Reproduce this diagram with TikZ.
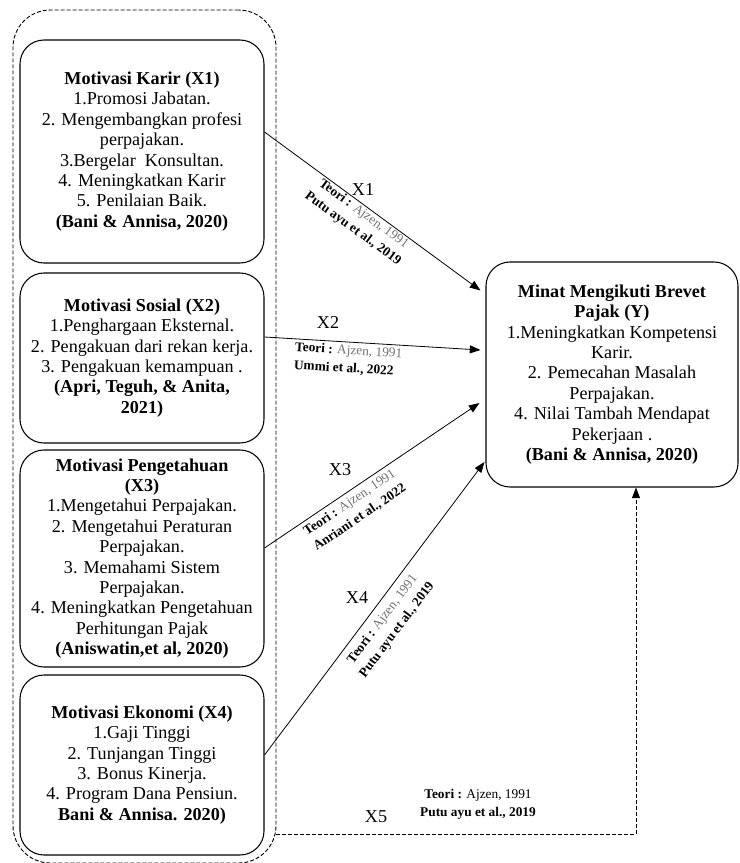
\documentclass[tikz,border=0pt]{standalone}
\usepackage{fontspec}
\setmainfont{Liberation Serif}
\usepackage{tikz}
\usetikzlibrary{arrows.meta,calc,positioning}
\definecolor{ajzengray}{RGB}{115,115,115}

\begin{document}
\begin{tikzpicture}[
    x=0.75pt, y=-0.75pt,
    motbox/.style={draw, line width=0.8pt, rounded corners=18pt, minimum width=183pt,
        align=center, inner sep=0pt, font=\fontsize{13.6}{15.3}\selectfont},
    ybox/.style={motbox, minimum width=189pt, minimum height=168.75pt},
    outerbox/.style={draw, line width=0.7pt, dash pattern=on 3pt off 1.5pt, rounded corners=28pt,
        minimum width=197.25pt, minimum height=639.75pt, inner sep=0pt},
    theory/.style={font=\fontsize{10}{13.5}\selectfont, align=center, inner sep=1pt},
    xlab/.style={font=\fontsize{13.6}{15}\selectfont, inner sep=0pt},
    link/.style={line width=0.6pt, -{Triangle[length=8pt,width=6pt]}},
    dashlink/.style={link, dash pattern=on 3pt off 1.5pt}
]
\useasboundingbox (0,0) rectangle (739,863);

\node[outerbox] (motivasi) at (144.5,436.5) {};

\node[motbox, minimum height=167.25pt] (karir) at (142,151.5) {\textbf{Motivasi Karir (X1)}\\1.Promosi Jabatan.\\2. Mengembangkan profesi\\perpajakan.\\3.Bergelar\ \ Konsultan.\\4. Meningkatkan Karir\\5. Penilaian Baik.\\\textbf{(Bani \& Annisa, 2020)}};
\node[motbox, minimum height=127.5pt] (sosial) at (142,358) {\textbf{Motivasi Sosial (X2)}\\1.Penghargaan Eksternal.\\2. Pengakuan dari rekan kerja.\\3. Pengakuan kemampuan .\\\textbf{(Apri, Teguh, \& Anita,}\\\textbf{2021)}};
\node[motbox, minimum height=162.75pt] (pengetahuan) at (142,558.5) {\textbf{Motivasi Pengetahuan}\\\textbf{(X3)}\\1.Mengetahui Perpajakan.\\2. Mengetahui Peraturan\\Perpajakan.\\3. Memahami Sistem\\Perpajakan.\\4. Meningkatkan Pengetahuan\\Perhitungan Pajak\\\textbf{(Aniswatin,et al, 2020)}};
\node[motbox, minimum height=135pt] (ekonomi) at (142,765) {\textbf{Motivasi Ekonomi (X4)}\\1.Gaji Tinggi\\2. Tunjangan Tinggi\\3. Bonus Kinerja.\\4. Program Dana Pensiun.\\\textbf{Bani \& Annisa. 2020)}};

\node[ybox] (minat) at (612,374.5) {\textbf{Minat Mengikuti Brevet}\\\textbf{Pajak (Y)}\\1.Meningkatkan Kompetensi\\Karir.\\2. Pemecahan Masalah\\Perpajakan.\\4. Nilai Tambah Mendapat\\Pekerjaan .\\\textbf{(Bani \& Annisa, 2020)}};

\draw[link] ($(karir.east)+(0,-19.5)$) -- node[theory, sloped, below, pos=0.48] {\textbf{Teori :} \textcolor{ajzengray}{Ajzen, 1991}\\\textbf{Putu ayu et al., 2019}} ($(minat.west)+(-5,-84)$);
\draw[link] ($(sosial.east)+(0,-21)$) -- node[theory, sloped, pos=0.13, anchor=north west, align=left, inner sep=2pt] {\textbf{Teori :} \textcolor{ajzengray}{Ajzen, 1991}\\\textbf{Ummi et al., 2022}} ($(minat.west)+(-5,-24.5)$);
\draw[link] ($(pengetahuan.east)+(0,-10.5)$) -- node[theory, sloped, below, pos=0.37, inner sep=3pt] {\textbf{Teori :} \textcolor{ajzengray}{Ajzen, 1991}\\\textbf{Anriani et al., 2022}} ($(minat.west)+(-6,28.5)$);
\draw[link] ($(ekonomi.east)+(0,-10)$) -- node[theory, sloped, below, pos=0.49, inner sep=5pt] {\textbf{Teori :} \textcolor{ajzengray}{Ajzen, 1991}\\\textbf{Putu ayu et al., 2019}} ($(minat.west)+(-1,87.5)$);
\draw[dashlink] ($(motivasi.south east)+(0,-29)$) -| ($(minat.south)+(24,0)$);

\node[xlab] (lblx1) at (363,190) {X1};
\node[xlab] (lblx2) at (328,322) {X2};
\node[xlab] (lblx3) at (340,470) {X3};
\node[xlab] (lblx4) at (357,598) {X4};
\node[xlab] (lblx5) at (376,817) {X5};
\node[theory] (teori5) at (478,804.5) {\textbf{Teori :} Ajzen, 1991\\\textbf{Putu ayu et al., 2019}};

\end{tikzpicture}
\end{document}
